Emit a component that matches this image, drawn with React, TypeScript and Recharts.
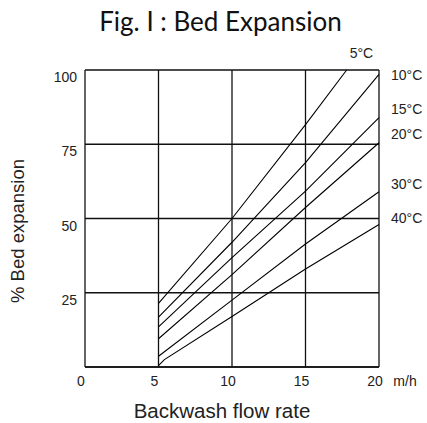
import { CartesianGrid, Label, LabelList, Line, LineChart, XAxis, YAxis } from 'recharts';

// flow rate ticks (m/h) and bed expansion ticks (%)
const xTicks = [0, 5, 10, 15, 20];
const yTicks = [25, 50, 75, 100];

const rates = [5, 10, 15, 20];
const rates5C = [5, 10, 15, 17.8];
const rates40C = [5, 5.4, 10, 15, 20];

// % bed expansion per water temperature
const bed5C = [21.4, 50, 81.6, 100];
const bed10C = [16.8, 42, 68.8, 98.5];
const bed15C = [13.5, 36.8, 59.2, 84];
const bed20C = [9.5, 31.1, 53.7, 75.5];
const bed30C = [3.6, 22.5, 41.4, 59];
const bed40C = [0.5, 2.5, 17, 33, 48];

const toPoints = (xs: number[], ys: number[]) =>
	xs.map((rate, i) => ({ rate, pct: ys[i] }));

// dx/dy: where the temperature label sits relative to the curve's end
const series = [
	{ name: '5°C', data: toPoints(rates5C, bed5C), dx: 3, dy: -12 },
	{ name: '10°C', data: toPoints(rates, bed10C), dx: 12, dy: 6 },
	{ name: '15°C', data: toPoints(rates, bed15C), dx: 12, dy: -4 },
	{ name: '20°C', data: toPoints(rates, bed20C), dx: 12, dy: -3.5 },
	{ name: '30°C', data: toPoints(rates, bed30C), dx: 12, dy: -3 },
	{ name: '40°C', data: toPoints(rates40C, bed40C), dx: 12, dy: -1 },
];

const FONT = "'Liberation Sans', Arial, sans-serif";

const YTick = ({ x, y, payload }: any) => (
	<text
		x={x}
		y={y + 7}
		textAnchor='end'
		dominantBaseline='central'
		fontFamily={FONT}
		fontSize={14}
		fill='#222'>
		{payload.value}
	</text>
);

const XTick = ({ x, payload }: any) => (
	<text
		x={x - 4}
		y={386}
		textAnchor='middle'
		fontFamily={FONT}
		fontSize={14}
		fill='#222'>
		{payload.value}
	</text>
);

export default function App() {
	return (
		<div style={{ position: 'absolute', left: 0, top: 0, width: 427, height: 423 }}>
			<div
				style={{
					position: 'absolute',
					left: 7,
					top: 6,
					width: 427,
					textAlign: 'center',
					fontFamily: 'Lato, sans-serif',
					fontSize: 26,
					lineHeight: '31px',
					color: '#111',
				}}>
				Fig. I : Bed Expansion
			</div>
			<LineChart
				width={427}
				height={423}
				margin={{ top: 70, right: 48, bottom: 26, left: 25 }}>
				<CartesianGrid
					stroke='#111'
					strokeWidth={1.3}
					fill='none'
				/>
				<XAxis
					type='number'
					dataKey='rate'
					domain={[0, 20]}
					ticks={xTicks}
					height={30}
					tickLine={false}
					axisLine={{ stroke: '#111', strokeWidth: 1.5 }}
					tick={<XTick />}>
					<Label
						content={() => (
							<text
								x={405}
								y={386}
								textAnchor='middle'
								fontFamily={FONT}
								fontSize={14}
								fill='#222'>
								m/h
							</text>
						)}
					/>
					<Label
						content={() => (
							<text
								x={222}
								y={418}
								textAnchor='middle'
								fontFamily={FONT}
								fontSize={20.5}
								fill='#222'>
								Backwash flow rate
							</text>
						)}
					/>
				</XAxis>
				<YAxis
					type='number'
					domain={[0, 100]}
					ticks={yTicks}
					width={60}
					tickLine={false}
					axisLine={false}
					tick={<YTick />}>
					<Label
						content={() => (
							<text
								x={17}
								y={231}
								transform='rotate(-90, 17, 231)'
								textAnchor='middle'
								dominantBaseline='central'
								fontFamily={FONT}
								fontSize={18.5}
								fill='#222'>
								% Bed expansion
							</text>
						)}
					/>
				</YAxis>
				{series.map((s) => (
					<Line
						key={s.name}
						data={s.data}
						dataKey='pct'
						type='linear'
						stroke='#000'
						strokeWidth={1.1}
						dot={false}
						activeDot={false}
						isAnimationActive={false}>
						<LabelList
							dataKey='pct'
							content={(p: any) =>
								p.index === s.data.length - 1 ? (
									<text
										x={p.x + s.dx}
										y={p.y + s.dy}
										fontFamily={FONT}
										fontSize={14}
										fill='#222'>
										{s.name}
									</text>
								) : null
							}
						/>
					</Line>
				))}
			</LineChart>
		</div>
	);
}
